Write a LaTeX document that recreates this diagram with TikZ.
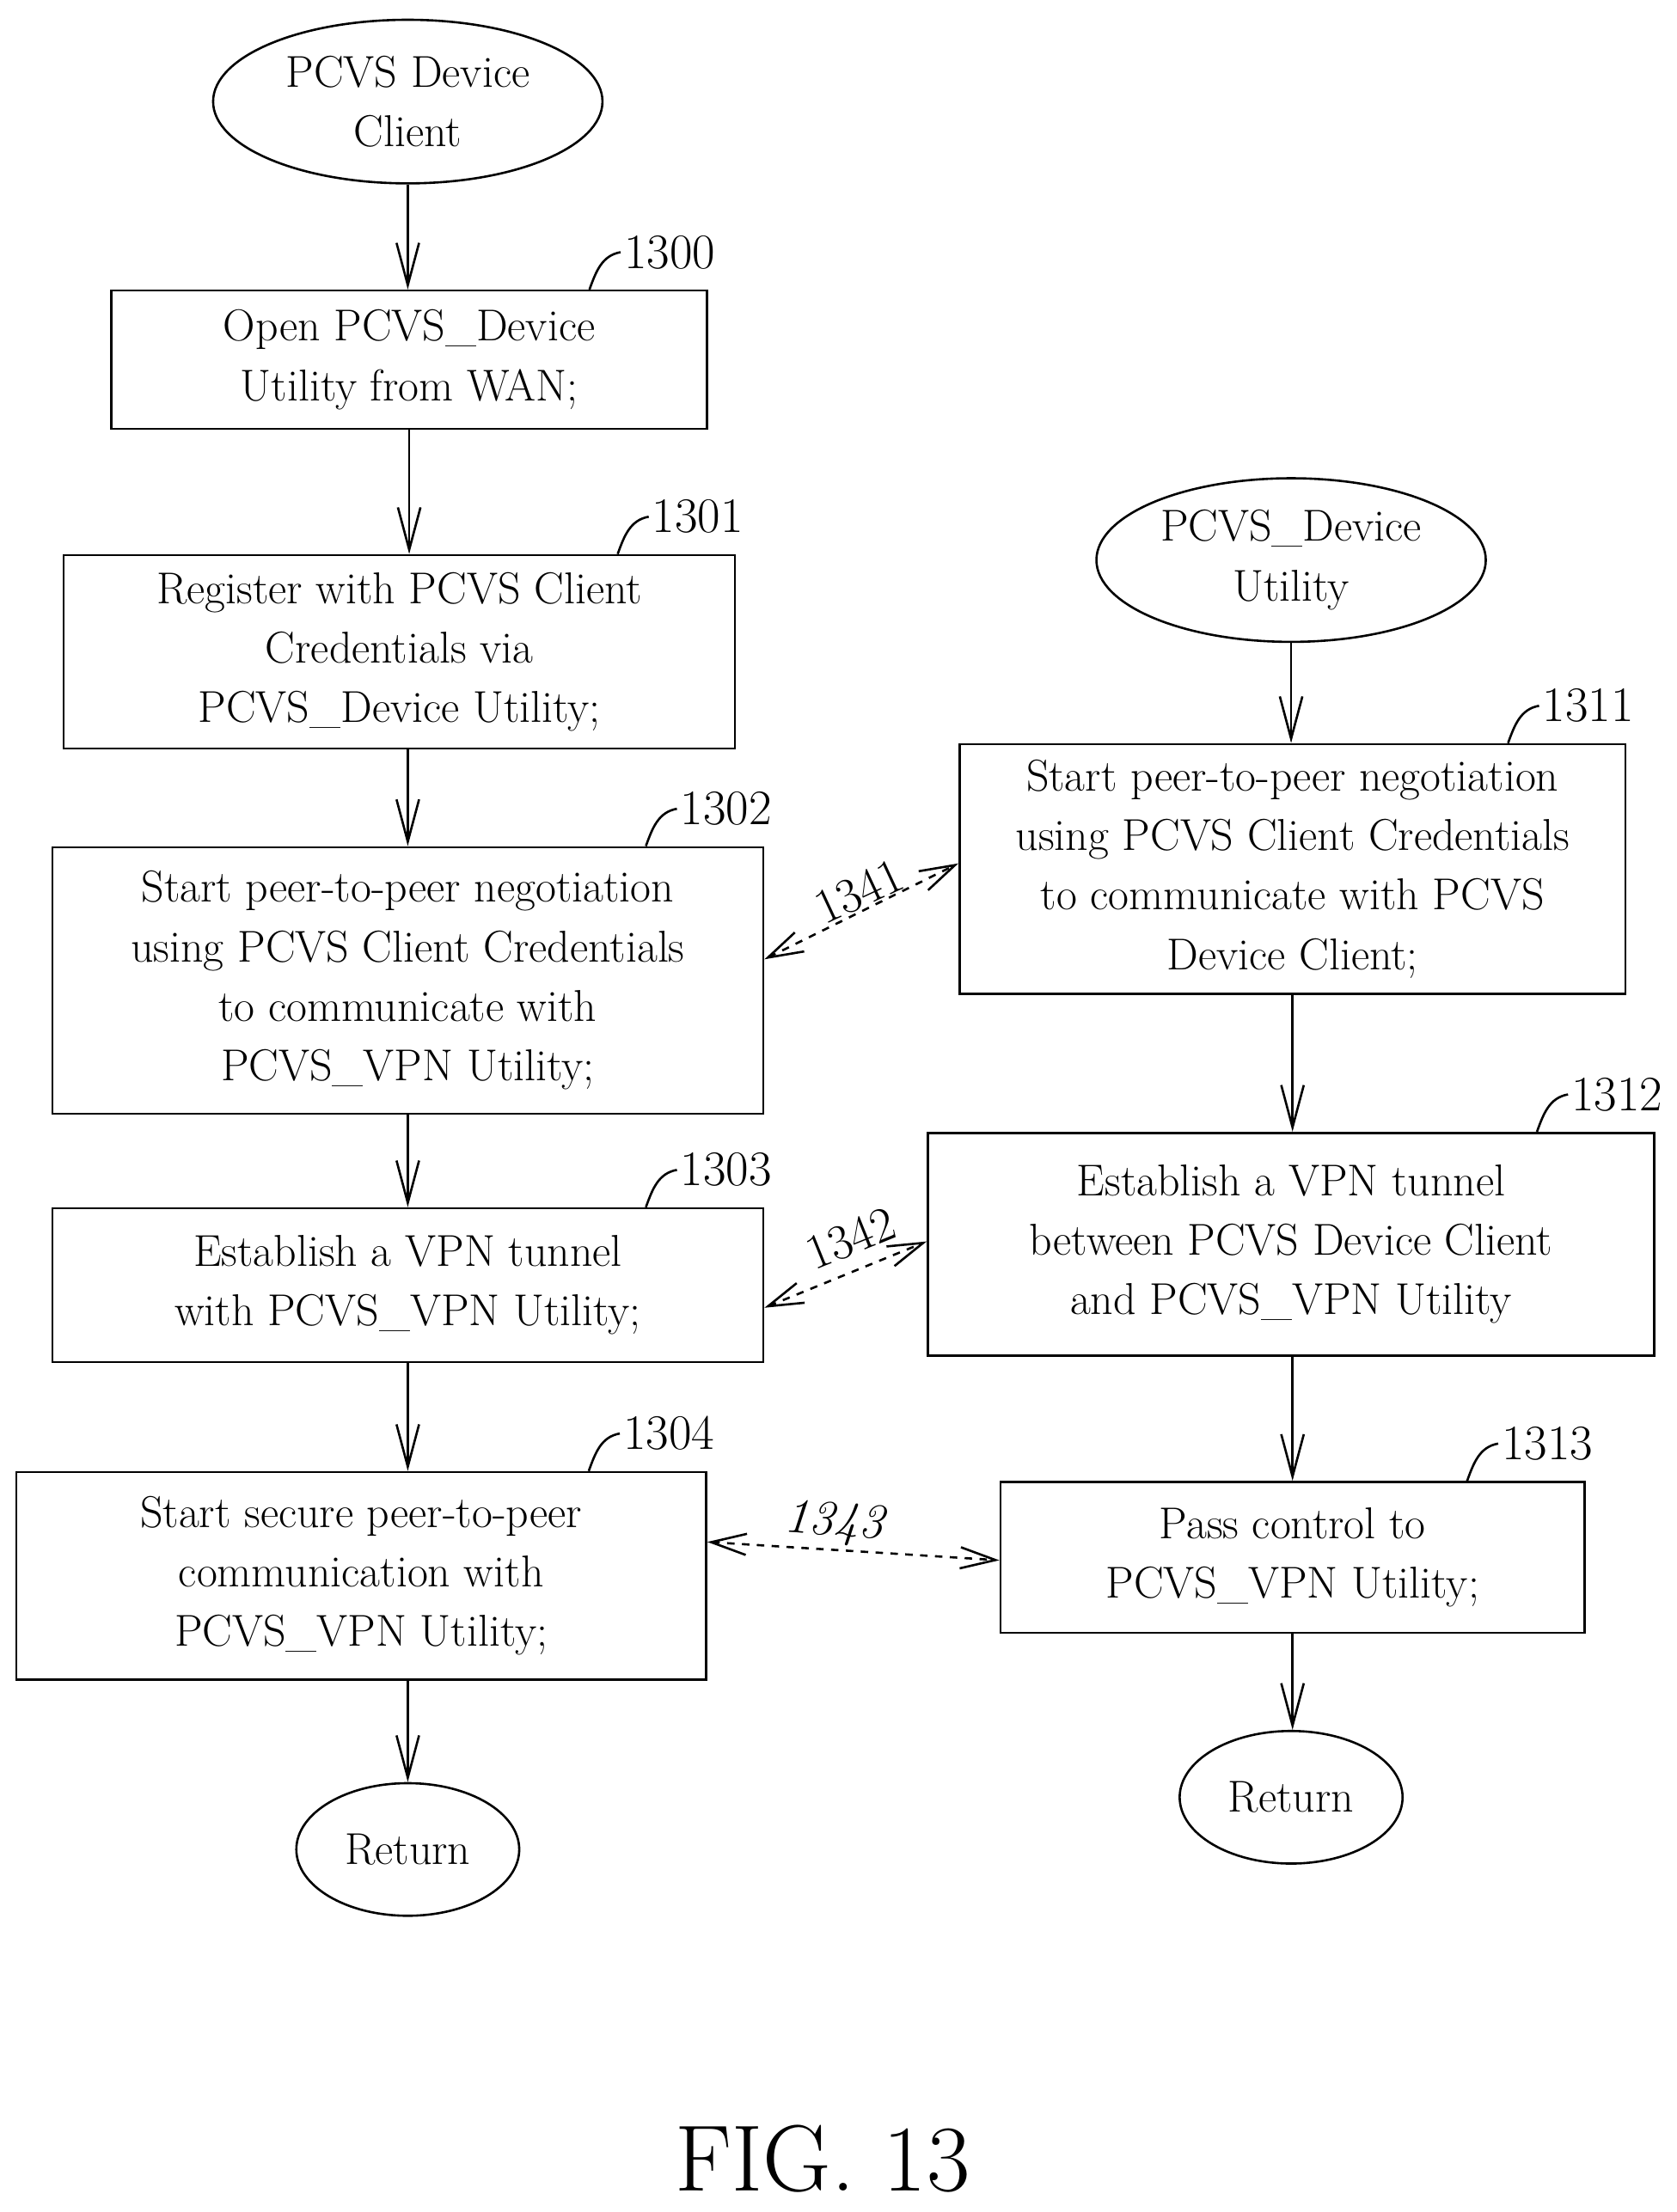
\documentclass[tikz,border=0pt]{standalone}
\usetikzlibrary{arrows.meta,calc,shapes.geometric}
\begin{document}
\begin{tikzpicture}[x=0.02cm, y=-0.02cm, line width=0.9pt,
    every node/.style={font=\fontsize{18}{24}\selectfont},
    box/.style={draw, align=center, inner sep=0pt},
    term/.style={draw, ellipse, align=center, inner sep=0pt},
    flow/.style={-{Straight Barb[length=6mm,width=3.2mm]}},
    link/.style={dashed, {Straight Barb[length=5mm,width=3mm]}-{Straight Barb[length=5mm,width=3mm]}},
    tag/.style={font=\fontsize{20}{24}\selectfont, inner sep=1pt}]
  \useasboundingbox (0,0) rectangle (1188,1568);
  % left column
  \node[term, minimum width=5.52cm, minimum height=2.32cm] (start) at (289,72) {PCVS Device\\Client};
  \node[box, minimum width=8.44cm, minimum height=1.96cm] (s1300) at (290,255) {Open PCVS\_Device\\Utility from WAN;};
  \node[box, minimum width=9.52cm, minimum height=2.74cm] (s1301) at (283,462) {Register with PCVS Client\\Credentials via\\PCVS\_Device Utility;};
  \node[box, minimum width=10.08cm, minimum height=3.78cm] (s1302) at (289,695) {Start peer-to-peer negotiation\\using PCVS Client Credentials\\to communicate with\\PCVS\_VPN Utility;};
  \node[box, minimum width=10.08cm, minimum height=2.18cm] (s1303) at (289,911) {Establish a VPN tunnel\\with PCVS\_VPN Utility;};
  \node[box, minimum width=9.78cm, minimum height=2.94cm] (s1304) at (256,1117) {Start secure peer-to-peer\\communication with\\PCVS\_VPN Utility;};
  \node[term, minimum width=3.16cm, minimum height=1.88cm] (endA) at (289,1311) {Return};
  % right column
  \node[term, minimum width=5.52cm, minimum height=2.32cm] (util) at (915,397) {PCVS\_Device\\Utility};
  \node[box, minimum width=9.44cm, minimum height=3.54cm] (s1311) at (916,616) {Start peer-to-peer negotiation\\using PCVS Client Credentials\\to communicate with PCVS\\Device Client;};
  \node[box, minimum width=10.3cm, minimum height=3.16cm] (s1312) at (915,882) {Establish a VPN tunnel\\between PCVS Device Client\\and PCVS\_VPN Utility};
  \node[box, minimum width=8.28cm, minimum height=2.14cm] (s1313) at (916,1104) {Pass control to\\PCVS\_VPN Utility;};
  \node[term, minimum width=3.16cm, minimum height=1.88cm] (endB) at (915,1274) {Return};
  % flow
  \draw[flow] (start) -- (start |- s1300.north);
  \draw[flow] (s1300) -- (s1300 |- s1301.north);
  \draw[flow] (s1301.south -| start) -- (start |- s1302.north);
  \draw[flow] (s1302) -- (s1303);
  \draw[flow] (s1303.south) -- (s1303.south |- s1304.north);
  \draw[flow] (s1304.south -| endA) -- (endA);
  \draw[flow] (util) -- (util |- s1311.north);
  \draw[flow] (s1311) -- (s1311 |- s1312.north);
  \draw[flow] (s1312.south -| s1313) -- (s1313);
  \draw[flow] (s1313) -- (s1313 |- endB.north);
  % reference numerals
  \foreach \bx/\t in {s1300/1300, s1301/1301, s1302/1302, s1303/1303, s1304/1304, s1311/1311, s1312/1312, s1313/1313} {
    \node[tag, anchor=south west] (n\t) at ($(\bx.north east)+(-62,-12)$) {\t};
    \draw (n\t.west) to[out=190,in=70] ($(\bx.north east)+(-84,0)$);
  }
  % exchanges
  \draw[link] (s1302.east |- 0,680) -- (s1311.west |- 0,612);
  \node[tag, rotate=25] (n1341) at (609,632) {1341};
  \draw[link] (s1303.east |- 0,927) -- (s1312.west |- 0,880);
  \node[tag, rotate=22] (n1342) at (603,878) {1342};
  \draw[link] (s1304.east |- 0,1093) -- (s1313.west |- 0,1106);
  \node[tag, rotate=-4, font=\itshape\fontsize{20}{24}\selectfont] (n1343) at (591,1080) {1343};
  \node[font=\fontsize{38}{44}\selectfont] (fig) at (583,1530) {FIG. 13};
\end{tikzpicture}
\end{document}
